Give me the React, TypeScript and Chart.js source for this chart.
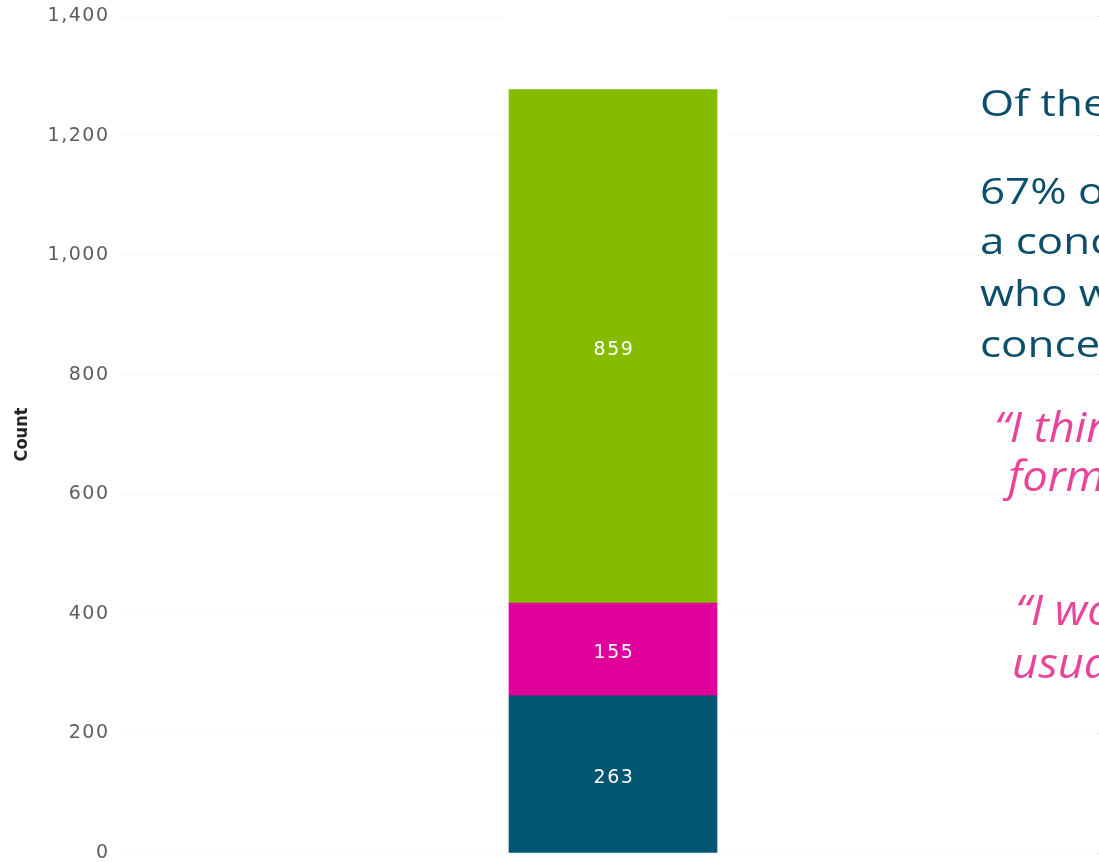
import React, { useEffect, useRef } from "react";
import { Chart, registerables } from "chart.js";

Chart.register(...registerables);

// ---- data ----
const categories = ["Respondents"];
const seriesNames = ["Group 1", "Group 2", "Group 3"];
const bottomSeries = [263];
const middleSeries = [155];
const topSeries = [859];
const yTickValues = [0, 200, 400, 600, 800, 1000, 1200, 1400];
const yTickLabels = ["0", "200", "400", "600", "800", "1,000", "1,200", "1,400"];
const yAxisTitle = "Count";

const headlineLines = ["Of the respondents"];
const bodyLines = ["67% of them", "a concern", "who were", "concerned"];
const quoteOneLines = ["\u201CI think", "format"];
const quoteTwoLines = ["\u201CI would", "usually"];

const letterSpacingPlugin = {
  id: "letterSpacing",
  beforeDraw(chart: any) {
    (chart.ctx as any).letterSpacing = "0px";
  },
  afterDatasetsDraw(chart: any) {
    (chart.ctx as any).letterSpacing = "1.5px";
  },
  afterDraw(chart: any) {
    (chart.ctx as any).letterSpacing = "0px";
  },
};

const barGapPlugin = {
  id: "barGap",
  beforeDatasetsDraw(chart: any) {
    const { ctx, chartArea } = chart;
    const meta = chart.getDatasetMeta(0);
    const bar = meta.data[0];
    if (!bar) return;
    const { x, width } = bar.getProps(["x", "width"], true);
    ctx.save();
    ctx.fillStyle = "#ffffff";
    ctx.fillRect(x - width / 2 - 6, chartArea.top - 2, width + 12, chartArea.bottom - chartArea.top);
    ctx.restore();
  },
};

const valueLabelPlugin = {
  id: "valueLabels",
  afterDatasetsDraw(chart: any) {
    const { ctx } = chart;
    ctx.save();
    ctx.font = "19px 'DejaVu Sans', sans-serif";
    ctx.fillStyle = "#ffffff";
    ctx.textAlign = "center";
    ctx.textBaseline = "middle";
    (ctx as any).letterSpacing = "1.5px";
    chart.data.datasets.forEach((ds: any, i: number) => {
      const meta = chart.getDatasetMeta(i);
      meta.data.forEach((el: any, j: number) => {
        const { x, y, base } = el.getProps(["x", "y", "base"], true);
        ctx.fillText(String(ds.data[j]), x + 1, (y + base) / 2 + 3.5);
      });
    });
    ctx.restore();
  },
};

function ChartCanvas() {
  const ref = useRef<HTMLCanvasElement | null>(null);
  useEffect(() => {
    if (!ref.current) return;
    const chart = new Chart(ref.current, {
      type: "bar",
      data: {
        labels: categories,
        datasets: [
          { label: seriesNames[0], data: bottomSeries, backgroundColor: "#005670", barThickness: 208 },
          { label: seriesNames[1], data: middleSeries, backgroundColor: "#E0009A", barThickness: 208 },
          { label: seriesNames[2], data: topSeries, backgroundColor: "#86BC00", barThickness: 208 },
        ],
      },
      options: {
        animation: false,
        responsive: false,
        maintainAspectRatio: false,
        layout: { padding: { top: 16, bottom: 9, left: 0, right: 0 } },
        plugins: { legend: { display: false }, tooltip: { enabled: false } },
        scales: {
          x: { stacked: true, display: false },
          y: {
            stacked: true,
            min: 0,
            max: 1400,
            afterFit(scale: any) {
              scale.width = 122;
              scale.paddingTop = 0;
              scale.paddingBottom = 0;
            },
            afterBuildTicks(scale: any) {
              scale.ticks = yTickValues.map((v) => ({ value: v }));
            },
            ticks: {
              z: 1,
              padding: 12.5,
              color: "#5f5d5b",
              font: { family: "'DejaVu Sans', sans-serif", size: 19 },
              callback: (value: any) => {
                const idx = yTickValues.indexOf(Number(value));
                return idx >= 0 ? yTickLabels[idx] : "";
              },
            },
            grid: { drawTicks: false, color: "#cfcfcf", lineWidth: 1 },
            border: { display: false, dash: [1, 7] },
            title: {
              display: true,
              text: yAxisTitle,
              color: "#252423",
              padding: { top: 12, bottom: 0 },
              font: { family: "'Liberation Sans Narrow', 'DejaVu Sans Condensed', 'Roboto', sans-serif", size: 18, weight: "bold" },
            },
          },
        },
      },
      plugins: [letterSpacingPlugin, barGapPlugin, valueLabelPlugin],
    });
    return () => chart.destroy();
  }, []);
  return <canvas ref={ref} width={1104} height={862} style={{ display: "block" }} />;
}

const tealStyle: React.CSSProperties = {
  position: "absolute",
  fontFamily: "'Open Sans', sans-serif",
  fontSize: 36,
  lineHeight: "36px",
  color: "#0B4F6C",
  whiteSpace: "nowrap",
  transform: "scaleX(1.22)",
  transformOrigin: "left top",
};

const pinkStyle: React.CSSProperties = {
  position: "absolute",
  fontFamily: "'Open Sans', sans-serif",
  fontStyle: "italic",
  fontSize: 42,
  lineHeight: "42px",
  color: "#E8449A",
  whiteSpace: "nowrap",
  transform: "scaleX(1.08)",
  transformOrigin: "left top",
};

export default function App() {
  const tealBaselines = [205, 255, 307, 358];
  return (
    <div style={{ position: "fixed", inset: 0, overflow: "hidden", background: "#ffffff" }}>
      <div style={{ position: "absolute", left: 0, top: 0 }}>
        <ChartCanvas />
      </div>
      <div style={{ ...tealStyle, left: 980, top: 117 - 32 }}>{headlineLines[0]}</div>
      {bodyLines.map((t, i) => (
        <div key={t} style={{ ...tealStyle, left: 980, top: tealBaselines[i] - 32 }}>{t}</div>
      ))}
      <div style={{ ...pinkStyle, left: 994, top: 442 - 37 }}>{quoteOneLines[0]}</div>
      <div style={{ ...pinkStyle, left: 1008, top: 491 - 37 }}>{quoteOneLines[1]}</div>
      <div style={{ ...pinkStyle, left: 1015, top: 625 - 37 }}>{quoteTwoLines[0]}</div>
      <div style={{ ...pinkStyle, left: 1012, top: 678 - 37 }}>{quoteTwoLines[1]}</div>
    </div>
  );
}
